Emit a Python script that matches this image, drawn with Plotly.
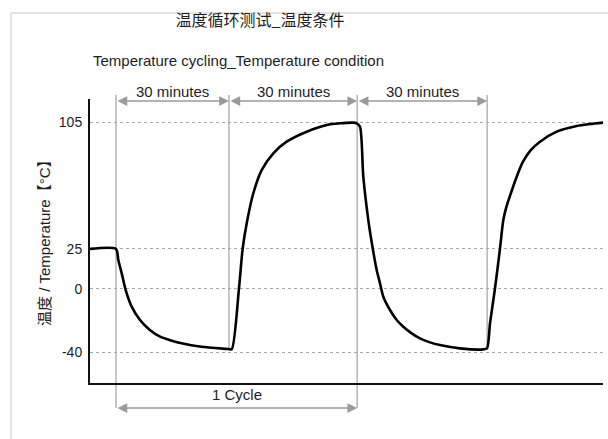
import plotly.graph_objects as go

# ---- data ----
time_min = [0, 6.08, 6.62, 7.42, 8.35, 9.75, 11.7, 14.0, 16.4, 19.1, 21.4, 26.1, 32.35, 33.15,
            34.85, 35.72, 36.80, 38.20, 40.16, 42.88, 46.01, 50.69, 55.37, 58.48, 61.59, 62.39,
            63.16, 63.93, 65.10, 66.13, 67.06, 67.84, 68.61, 70.18, 71.74, 73.29, 75.25, 77.19,
            79.53, 81.87, 86.55, 92.00, 92.87,
            93.57, 94.74, 95.91, 96.68, 97.4, 98.25, 99.81, 101.2, 103.0, 105.26, 109.17, 113.85, 116.96, 120.0]
temp_c = [25, 25, 18.0, 9.6, -0.9, -11.4, -19.8, -26.1, -30.3, -32.8, -34.5, -36.7, -38.1, -38.3,
          0.2, 25.4, 43.2, 60.1, 74.7, 85.3, 92.6, 98.9, 103.1, 104.2, 104.6, 104.2,
          102.0, 70.5, 43.2, 25.4, 11.7, 3.3, -5.1, -13.5, -19.8, -24.0, -28.2, -31.4,
          -33.9, -35.6, -37.7, -38.3, -37.7,
          -21.9, 0.2, 25.4, 43.2, 51.5, 58.5, 70.5, 79.5, 87.0, 92.6, 98.9, 102.5, 103.7, 104.6]

tick_vals = [105, 25, 0, -40]
tick_text = ["105", "25", "0", "-40"]

phase_bounds = [6.08, 32.5, 62.5, 92.9]
phase_labels = ["30 minutes", "30 minutes", "30 minutes"]
cycle_span = [6.08, 62.5]
cycle_label = "1 Cycle"

title_cn = "温度循环测试_温度条件"
title_en = "Temperature cycling_Temperature condition"
y_title = "温度 / Temperature【°C】"

# ---- layout geometry ----
W, H = 608, 439
L, R, T, B = 90, 5, 99, 56
PW, PH = W - L - R, H - T - B


def xp(px):
    return (px - L) / PW


def yp(py):
    return (H - B - py) / PH


FONT = "Liberation Sans, Arial, Noto Sans CJK SC, sans-serif"
TXT = "#1e1e1e"
GRAY = "#9a9a9a"
VLINE = "#b4b4b4"

fig = go.Figure()
fig.add_trace(go.Scatter(
    x=time_min, y=temp_c, mode="lines",
    line=dict(color="#000000", width=2.6, shape="spline", smoothing=0.7),
    hoverinfo="skip", showlegend=False))

shapes = []
# outer frame
shapes.append(dict(type="rect", xref="paper", yref="paper",
                   x0=xp(11), x1=xp(650), y0=yp(470), y1=yp(13),
                   line=dict(color="#c8c8c8", width=1), layer="below"))
# vertical phase lines
for t in phase_bounds:
    long_line = t in cycle_span
    shapes.append(dict(type="line", xref="x", yref="paper",
                       x0=t, x1=t, y0=yp(408 if long_line else 349), y1=yp(95),
                       line=dict(color=VLINE, width=1.5), layer="below"))
fig.update_layout(shapes=shapes)

ann = []
arrow_common = dict(xref="x", yref="paper", axref="x", ayref="pixel", ay=0,
                    text="", showarrow=True, arrowside="end+start",
                    arrowhead=2, startarrowhead=2, arrowsize=1.3, startarrowsize=1.3,
                    arrowwidth=1.5, arrowcolor=GRAY, standoff=0, startstandoff=0)
for i, lab in enumerate(phase_labels):
    a, b = phase_bounds[i], phase_bounds[i + 1]
    ann.append(dict(x=b, y=yp(101), ax=a, **arrow_common))
    ann.append(dict(x=(a + b) / 2, y=yp(92), xref="x", yref="paper", text=lab,
                    showarrow=False, font=dict(size=15, color=TXT, family=FONT),
                    xanchor="center", yanchor="middle"))
ann.append(dict(x=cycle_span[1], y=yp(408), ax=cycle_span[0], **arrow_common))
ann.append(dict(x=sum(cycle_span) / 2, y=yp(394), xref="x", yref="paper", text=cycle_label,
                showarrow=False, font=dict(size=15, color=TXT, family=FONT),
                xanchor="center", yanchor="middle"))
ann.append(dict(x=xp(44), y=yp(239), xref="paper", yref="paper", text=y_title,
                textangle=-90, showarrow=False, font=dict(size=15, color=TXT, family=FONT),
                xanchor="center", yanchor="middle"))
ann.append(dict(x=xp(238.5), y=yp(60), xref="paper", yref="paper", text=title_en,
                showarrow=False, font=dict(size=15, color=TXT, family=FONT),
                xanchor="center", yanchor="middle"))

fig.update_layout(
    annotations=ann,
    width=W, height=H,
    margin=dict(l=L, r=R, t=T, b=B),
    paper_bgcolor="white", plot_bgcolor="white",
    font=dict(family=FONT, color=TXT, size=14),
    title=dict(text=title_cn, x=260 / W, y=1 - 20 / H, xanchor="center", yanchor="middle",
               font=dict(size=16, color=TXT, family="Noto Sans CJK SC, sans-serif")),
    xaxis=dict(range=[0, 120], showticklabels=False, ticks="", showgrid=False,
               zeroline=False, showline=True, linecolor="#111111", linewidth=2,
               fixedrange=True),
    yaxis=dict(range=[-59.5, 119.5], tickvals=tick_vals, ticktext=tick_text,
               ticks="", ticklabelstandoff=3, showgrid=True, gridcolor="#a8a8a8",
               griddash="dot", gridwidth=1, zeroline=False, showline=True,
               linecolor="#111111", linewidth=2, tickfont=dict(size=14, color=TXT),
               fixedrange=True),
    showlegend=False,
)

fig.write_html("out.html", config={"displayModeBar": False},
               post_script="document.body.style.margin='0';")
